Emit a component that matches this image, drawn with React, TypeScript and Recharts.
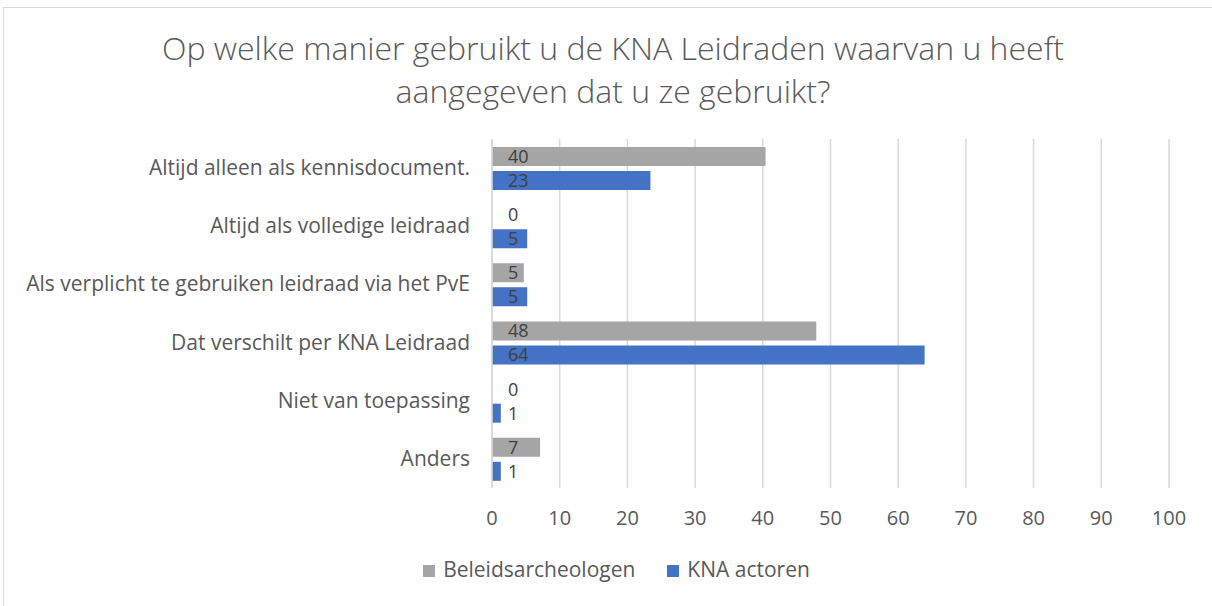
import { Bar, BarChart, CartesianGrid, LabelList, Legend, XAxis, YAxis } from "recharts";

const categories = [
  "Altijd alleen als kennisdocument.",
  "Altijd als volledige leidraad",
  "Als verplicht te gebruiken leidraad via het PvE",
  "Dat verschilt per KNA Leidraad",
  "Niet van toepassing",
  "Anders",
];
const beleidsarcheologen = [40.4, 0, 4.7, 47.9, 0, 7.1];
const knaActoren = [23.4, 5.2, 5.2, 63.9, 1.3, 1.3];
const xTicks = [0, 10, 20, 30, 40, 50, 60, 70, 80, 90, 100];

const data = categories.map((name, i) => ({
  name,
  beleid: beleidsarcheologen[i],
  kna: knaActoren[i],
}));

const FONT = "'Open Sans', Lato, sans-serif";
const TEXT = "#595959";

const CategoryTick = (props: any) => {
  const { y, payload } = props;
  return (
    <text x={470} y={y} dy={7} textAnchor="end" fill={TEXT} fontSize={21} fontFamily={FONT}>
      {payload.value}
    </text>
  );
};

const ValueTick = (props: any) => {
  const { x, y, payload } = props;
  return (
    <text x={x} y={y} dy={29} textAnchor="middle" fill={TEXT} fontSize={20} fontFamily={FONT}>
      {payload.value}
    </text>
  );
};

const fmt = (v: any) => Math.round(Number(v));

export default function App() {
  return (
    <div style={{ position: "absolute", left: 0, top: 0, width: 1212, height: 606, background: "#fff", overflow: "hidden" }}>
      <div
        style={{
          position: "absolute",
          left: 3,
          top: 7,
          width: 1220,
          height: 620,
          border: "1.5px solid #D9D9D9",
          boxSizing: "border-box",
        }}
      />
      <div
        style={{
          position: "absolute",
          left: 0,
          top: 26,
          width: 1226,
          textAlign: "center",
          fontFamily: FONT,
          fontWeight: 300,
          fontSize: 32,
          lineHeight: "43px",
          color: TEXT,
        }}
      >
        Op welke manier gebruikt u de KNA Leidraden waarvan u heeft
        <br />
        aangegeven dat u ze gebruikt?
      </div>
      <div style={{ position: "absolute", left: 0, top: 0 }}>
        <BarChart
          width={1212}
          height={606}
          data={data}
          layout="vertical"
          margin={{ top: 139, right: 43, left: 0, bottom: 19 }}
          barSize={19}
          barGap={5}
        >
          <CartesianGrid horizontal={false} stroke="#D9D9D9" strokeWidth={1.5} />
          <XAxis
            type="number"
            domain={[0, 100]}
            ticks={xTicks}
            axisLine={false}
            tickLine={false}
            height={67}
            tick={<ValueTick />}
          />
          <YAxis
            type="category"
            dataKey="name"
            width={492}
            axisLine={{ stroke: "#D9D9D9", strokeWidth: 1.5 }}
            tickLine={false}
            tick={<CategoryTick />}
          />
          <Legend
            height={32}
            iconType="square"
            iconSize={12}
            wrapperStyle={{ fontFamily: FONT, fontSize: 21, paddingLeft: 48 }}
            formatter={(value: string) => (
              <span style={{ color: TEXT, marginLeft: 4, marginRight: 22 }}>{value}</span>
            )}
          />
          <Bar dataKey="beleid" name="Beleidsarcheologen" fill="#A5A5A5" minPointSize={0.01} isAnimationActive={false}>
            <LabelList dataKey="beleid" position="insideLeft" offset={16} formatter={fmt} fill="#404040" fontSize={18} fontFamily={FONT} />
          </Bar>
          <Bar dataKey="kna" name="KNA actoren" fill="#4472C4" minPointSize={0.01} isAnimationActive={false}>
            <LabelList dataKey="kna" position="insideLeft" offset={16} formatter={fmt} fill="#404040" fontSize={18} fontFamily={FONT} />
          </Bar>
        </BarChart>
      </div>
    </div>
  );
}
